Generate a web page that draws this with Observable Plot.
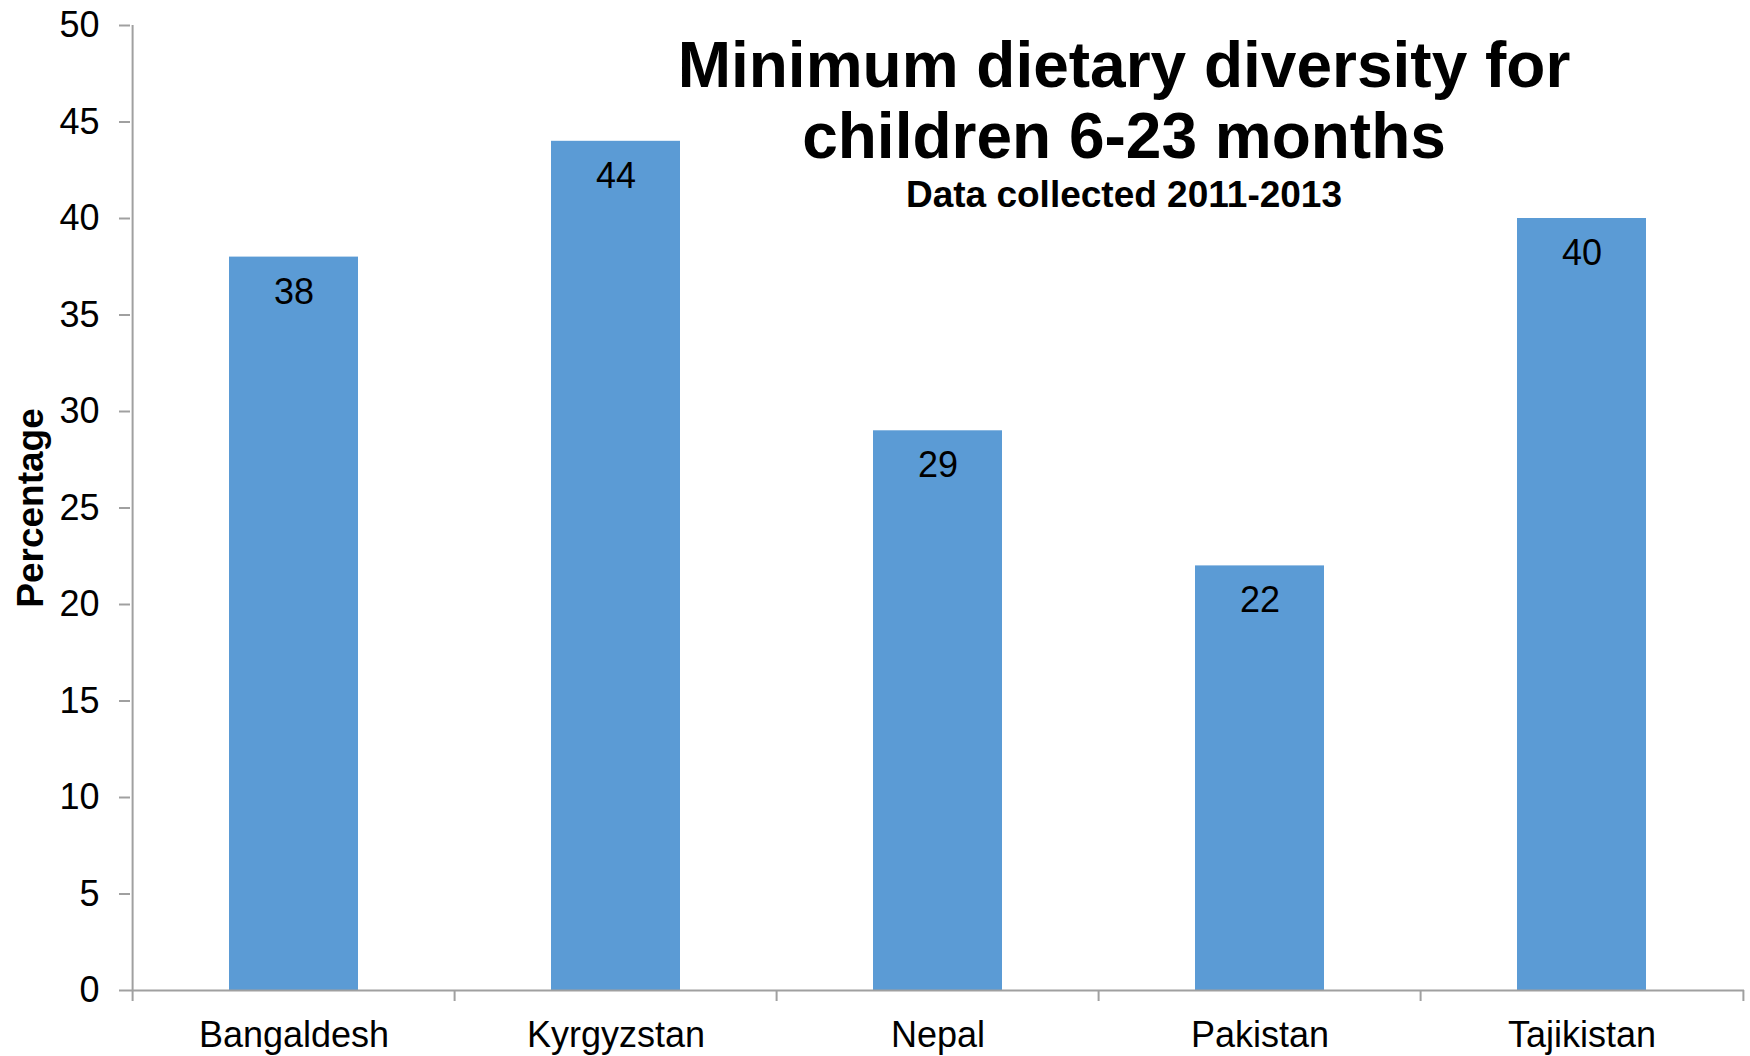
<!DOCTYPE html>
<html>
<head>
<meta charset="utf-8">
<script src="https://cdn.jsdelivr.net/npm/d3@7"></script>
<script src="https://cdn.jsdelivr.net/npm/@observablehq/plot@0.6"></script>
<style>
  html, body { margin: 0; padding: 0; background: #fff; }
  #wrap { position: relative; width: 1750px; height: 1056px; font-family: "Liberation Sans", Arial, sans-serif; }
  .title { position: absolute; left: 624px; width: 1000px; text-align: center; font-weight: bold; color: #000; white-space: nowrap; }
  #t1 { top: 30px; font-size: 64px; line-height: 71px; }
  #t2 { top: 174px; font-size: 37px; line-height: 41px; }
</style>
</head>
<body>
<div id="wrap">
  <div id="chart"></div>
  <div class="title" id="t1">Minimum dietary diversity for<br>children 6-23 months</div>
  <div class="title" id="t2">Data collected 2011-2013</div>
</div>
<script>
const countries = ["Bangaldesh", "Kyrgyzstan", "Nepal", "Pakistan", "Tajikistan"];
const values = [38, 44, 29, 22, 40];
const yTicks = [0, 5, 10, 15, 20, 25, 30, 35, 40, 45, 50];
const yLabel = "Percentage";

const data = countries.map((c, i) => ({country: c, value: values[i]}));

const W = 1750, H = 1056, ML = 130, MR = 6, MT = 25, MB = 66;
const step = (W - ML - MR) / countries.length;
const axisColor = "#a0a0a0";
const font = "'Liberation Sans', Arial, sans-serif";

const chart = Plot.plot({
  width: W,
  height: H,
  marginLeft: ML,
  marginRight: MR,
  marginTop: MT,
  marginBottom: MB,
  style: {fontFamily: font, fontSize: "36px", color: "#000", background: "#fff"},
  x: {domain: countries, paddingInner: 0.6, paddingOuter: 0.3, label: null},
  y: {domain: [0, 50], label: null},
  marks: [
    Plot.barY(data, {x: "country", y: "value", fill: "#5B9BD5"}),
    Plot.text(data, {x: "country", y: "value", text: d => String(d.value), dy: 35, fontSize: 36, fill: "#000"}),
    Plot.ruleY([0], {stroke: axisColor, strokeWidth: 2}),
    Plot.ruleX([countries[0]], {dx: -step / 2, stroke: axisColor, strokeWidth: 2, insetBottom: -11}),
    Plot.ruleX(countries.slice(1), {dx: -step / 2, y1: 0, y2: 0, insetBottom: -11, stroke: axisColor, strokeWidth: 2}),
    Plot.ruleX(countries.slice(-1), {dx: step / 2, y1: 0, y2: 0, insetBottom: -11, stroke: axisColor, strokeWidth: 2}),
    Plot.axisY({ticks: yTicks, tickSize: 11, tickPadding: 20, stroke: axisColor, strokeWidth: 2, fill: "#000", fontSize: 36, label: null}),
    Plot.axisX({tickSize: 0, tickPadding: 31, fill: "#000", fontSize: 36, label: null}),
    Plot.text([yLabel], {frameAnchor: "left", textAnchor: "middle", dx: -99, rotate: -90, text: d => d, fontWeight: "bold", fontSize: 37, fill: "#000"})
  ]
});
document.getElementById("chart").appendChild(chart);
</script>
</body>
</html>
